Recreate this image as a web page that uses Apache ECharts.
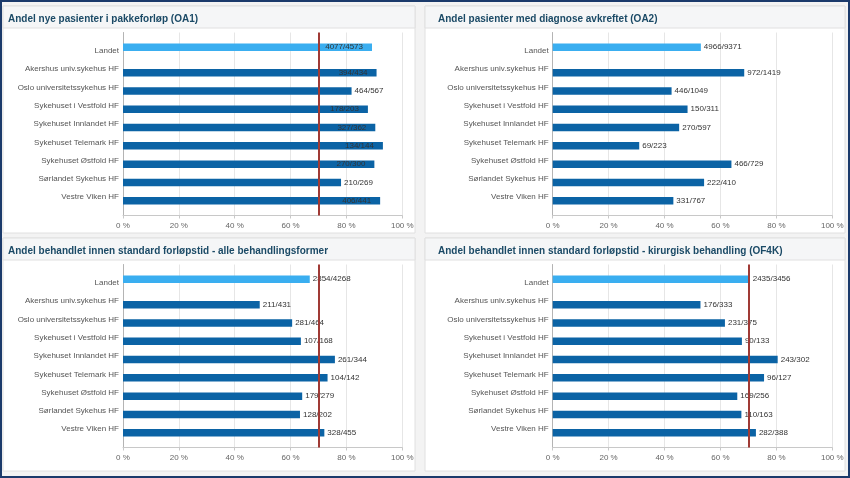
<!DOCTYPE html>
<html><head><meta charset="utf-8">
<script src="https://cdn.jsdelivr.net/npm/echarts@6/dist/echarts.min.js"></script>
<style>html,body{margin:0;padding:0;background:#fff}#c{width:850px;height:478px}</style>
</head><body><div id="c"></div>
<script>
const categories = ['Landet','Akershus univ.sykehus HF','Oslo universitetssykehus HF','Sykehuset i Vestfold HF','Sykehuset Innlandet HF','Sykehuset Telemark HF','Sykehuset Østfold HF','Sørlandet Sykehus HF','Vestre Viken HF'];
const titles = [
  'Andel nye pasienter i pakkeforløp (OA1)',
  'Andel pasienter med diagnose avkreftet (OA2)',
  'Andel behandlet innen standard forløpstid - alle behandlingsformer',
  'Andel behandlet innen standard forløpstid - kirurgisk behandling (OF4K)'
];
const oa1Num = [4077,394,464,178,327,134,270,210,406];
const oa1Den = [4573,434,567,203,362,144,300,269,441];
const oa2Num = [4966,972,446,150,270,69,466,222,331];
const oa2Den = [9371,1419,1049,311,597,223,729,410,767];
const allNum = [2854,211,281,107,261,104,179,128,328];
const allDen = [4268,431,464,168,344,142,279,202,455];
const of4kNum = [2435,176,231,90,243,96,169,110,282];
const of4kDen = [3456,333,375,133,302,127,256,163,388];
const targets = [70, null, 70, 70];
const xTicks = [0,20,40,60,80,100];

const panels = [
  {num: oa1Num, den: oa1Den},
  {num: oa2Num, den: oa2Den},
  {num: allNum, den: allDen},
  {num: of4kNum, den: of4kDen}
];
const grids = [
  {left:123, top:32.5, width:279.3, height:183},
  {left:552.7, top:32.5, width:279.6, height:183},
  {left:123, top:264.5, width:279.3, height:183},
  {left:552.7, top:264.5, width:279.6, height:183}
];
const titlePos = [{left:8, top:14.5},{left:438, top:14.5},{left:8, top:246},{left:438, top:246}];
const sans = "'Liberation Sans',Arial,sans-serif";

const axisCats = [''].concat(categories, ['']);
const option = {
  animation: false,
  backgroundColor: '#f3f3f3',
  title: titles.map((t,i)=>({text:t, left:titlePos[i].left, top:titlePos[i].top, padding:0,
    textStyle:{fontFamily:sans, fontWeight:'bold', fontSize:10, color:'#1b4a66'}})),
  graphic: [
    {type:'rect', shape:{x:3,y:6,width:412,height:227}, style:{fill:'#fff', stroke:'#e0e0e0'}, z:-10},
    {type:'rect', shape:{x:425,y:6,width:420,height:227}, style:{fill:'#fff', stroke:'#e0e0e0'}, z:-10},
    {type:'rect', shape:{x:3,y:238,width:412,height:233}, style:{fill:'#fff', stroke:'#e0e0e0'}, z:-10},
    {type:'rect', shape:{x:425,y:238,width:420,height:233}, style:{fill:'#fff', stroke:'#e0e0e0'}, z:-10},
    {type:'rect', shape:{x:3,y:6,width:412,height:22}, style:{fill:'#f5f6f7', stroke:'#e0e0e0'}, z:-9},
    {type:'rect', shape:{x:425,y:6,width:420,height:22}, style:{fill:'#f5f6f7', stroke:'#e0e0e0'}, z:-9},
    {type:'rect', shape:{x:3,y:238,width:412,height:22}, style:{fill:'#f5f6f7', stroke:'#e0e0e0'}, z:-9},
    {type:'rect', shape:{x:425,y:238,width:420,height:22}, style:{fill:'#f5f6f7', stroke:'#e0e0e0'}, z:-9},
    {type:'rect', shape:{x:1,y:1,width:848,height:476}, style:{fill:'none', stroke:'#1b3a6b', lineWidth:2}, z:100}
  ],
  grid: grids.map(g=>Object.assign({outerBoundsMode:'none', containLabel:false}, g)),
  xAxis: grids.map((g,i)=>({
    type:'value', gridIndex:i, min:xTicks[0], max:xTicks[xTicks.length-1], interval:xTicks[1]-xTicks[0],
    axisLine:{show:true, lineStyle:{color:'#c8c8c8'}},
    axisTick:{show:true, length:3, lineStyle:{color:'#c8c8c8'}},
    splitLine:{show:true, lineStyle:{color:'#e6e6e6'}},
    axisLabel:{formatter:'{value} %', color:'#666', fontFamily:sans, fontSize:8, margin:6}
  })),
  yAxis: grids.map((g,i)=>({
    type:'category', gridIndex:i, data:axisCats, inverse:true, boundaryGap:false,
    axisLine:{show:true, lineStyle:{color:'#b4b4b4'}},
    axisTick:{show:false}, splitLine:{show:false},
    axisLabel:{color:'#555', fontFamily:sans, fontSize:8, margin:4, interval:0}
  })),
  series: []
};

panels.forEach((p,i)=>{
  const pct = p.num.map((n,k)=>n/p.den[k]*100);
  const item = (k)=>{
    const v = pct[k];
    const inside = v + 17 > 100;
    return {value:v, label:{position: inside?'insideRight':'right', distance: inside?9:3}};
  };
  const landet = axisCats.map((c,k)=> (k===1 ? item(0) : null));
  const hosp = axisCats.map((c,k)=> (k>=2 && k<=categories.length ? item(k-1) : null));
  const lbl = {show:true, color:'#333', fontFamily:sans, fontSize:8,
    formatter:(d)=>{const idx=d.dataIndex-1; return p.num[idx]+'/'+p.den[idx];}};
  option.series.push({type:'bar', name:'Landet', xAxisIndex:i, yAxisIndex:i, data:landet, barWidth:7.5, barGap:'-5%',
    itemStyle:{color:'#3aaef0'}, label:lbl, z:2});
  option.series.push({type:'bar', name:'HF', xAxisIndex:i, yAxisIndex:i, data:hosp, barWidth:7.5, barGap:'-5%',
    itemStyle:{color:'#0b63a5'}, label:lbl, z:2});
  if (targets[i] !== null) {
    option.series.push({type:'line', xAxisIndex:i, yAxisIndex:i, data:[], z:5,
      markLine:{silent:true, symbol:'none', label:{show:false},
        lineStyle:{color:'#a03a35', width:2, type:'solid'}, data:[{xAxis:targets[i]}]}});
  }
});

const chart = echarts.init(document.getElementById('c'), null, {renderer:'canvas'});
chart.setOption(option);
</script>
</body></html>
